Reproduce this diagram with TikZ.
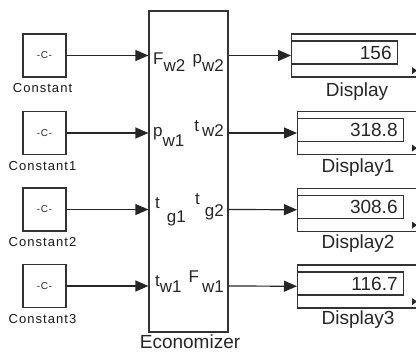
\documentclass[tikz,border=0pt]{standalone}
\usepackage{fontspec}
\setmainfont{Liberation Sans}
\usetikzlibrary{positioning,arrows.meta}

\newcommand{\plbl}[4][0pt]{#2\hspace{#1}\raisebox{-#3pt}{#4}}

\begin{document}
\begin{tikzpicture}[x=1pt, y=-1pt,
    blk/.style={draw, black!80, line width=1.2pt, inner sep=0pt},
    const/.style={blk, minimum width=43pt, minimum height=43pt,
                  text=black!85, font=\fontsize{10}{10}\selectfont\addfontfeatures{LetterSpace=6}},
    clbl/.style={inner sep=0pt, text=black!90,
                 font=\fontsize{13}{13}\selectfont\addfontfeatures{LetterSpace=8}},
    eco/.style={blk, minimum width=79pt, minimum height=321pt},
    port/.style={inner sep=0pt, text=black!85, font=\fontsize{17}{17}\selectfont},
    disp/.style={blk, minimum width=140pt, minimum height=43pt},
    dval/.style={blk, minimum width=106pt, minimum height=23pt, inner sep=0pt,
                 text width=94pt, align=right, text=black!85,
                 font=\fontsize{19}{19}\selectfont},
    dlbl/.style={inner sep=0pt, text=black!85, font=\fontsize{19}{20}\selectfont},
    sig/.style={draw, black!85, line width=1.2pt, -{Triangle[length=13pt,width=11pt]}},
    tip/.style={fill=black!85},
  ]
  \useasboundingbox (0,0) rectangle (416,353);
  \clip (0,0) rectangle (416,353);

  % --- constant sources (left column) ---
  \node[const] (c1) at (44.5,55.5) {-C-};
  \node[const] (c2) at (44.5,133) {-C-};
  \node[const] (c3) at (44.5,209.5) {-C-};
  \node[const] (c4) at (44.5,286) {-C-};
  \node[clbl, below=6pt of c1, xshift=-2pt] (c1l) {Constant};
  \node[clbl, below=6pt of c2, xshift=-2pt] (c2l) {Constant1};
  \node[clbl, below=6pt of c3, xshift=-2pt] (c3l) {Constant2};
  \node[clbl, below=6pt of c4, xshift=-2pt] (c4l) {Constant3};

  % --- economizer block ---
  \node[eco] (eco) at (188.5,171.5) {};
  \node[dlbl, below=2pt of eco, xshift=1.5pt] (ecol) {Economizer};
  \coordinate (i1) at (eco.west |- c1);
  \coordinate (i2) at (eco.west |- c2);
  \coordinate (i3) at (eco.west |- c3);
  \coordinate (i4) at (eco.west |- c4);
  \coordinate (o1) at (eco.east |- c1);
  \coordinate (o2) at (eco.east |- c2);
  \coordinate (o3) at (eco.east |- c3);
  \coordinate (o4) at (eco.east |- c4);

  % --- port labels ---
  \node[port, anchor=base west] (pi1) at (153,65) {\plbl{F}{7}{w2}};
  \node[port, anchor=base east] (po1) at (224,64) {\plbl{p}{8}{w2}};
  \node[port, anchor=base west] (pi2) at (153,137) {\plbl{p}{9.5}{w1}};
  \node[port, anchor=base east] (po2) at (224,131.5) {\plbl[3pt]{t}{5}{w2}};
  \node[port, anchor=base west] (pi3) at (155,208) {\plbl[7pt]{t}{14}{g1}};
  \node[port, anchor=base east] (po3) at (224,205) {\plbl[5pt]{t}{12}{g2}};
  \node[port, anchor=base west] (pi4) at (155,287) {\plbl{t}{6}{w1}};
  \node[port, anchor=base east] (po4) at (224,283) {\plbl[3pt]{F}{10}{w1}};

  % --- displays (right column) ---
  \node[disp, anchor=west] (d1) at (291,55.5) {};
  \node[disp, anchor=west] (d2) at (297,133) {};
  \node[disp, anchor=west] (d3) at (297,210) {};
  \node[disp, anchor=west] (d4) at (297,286.5) {};
  \node[dval, below=7pt of d1.north west, anchor=north west] (v1) {156};
  \node[dval, below=7pt of d2.north west, anchor=north west] (v2) {318.8};
  \node[dval, below=7pt of d3.north west, anchor=north west] (v3) {308.6};
  \node[dval, below=7pt of d4.north west, anchor=north west] (v4) {116.7};
  \node[dlbl, anchor=base] (d1l) at (357,97) {Display};
  \node[dlbl, anchor=base] (d2l) at (358,173) {Display1};
  \node[dlbl, anchor=base] (d3l) at (358,248) {Display2};
  \node[dlbl, anchor=base] (d4l) at (358,324) {Display3};
  \coordinate (xt) at (412,0);
  \foreach \d in {d1,d2,d3,d4}
    \fill[tip] (\d.south west -| xt) ++(0,-10.5) -- ++(5,3.5) -- ++(-5,3.5) -- cycle;

  % --- signals ---
  \draw[sig] (c1) -- (i1);
  \draw[sig] (c2) -- (i2);
  \draw[sig] (c3) -- (i3);
  \draw[sig] (c4) -- (i4);
  \draw[sig] (o1) -- (d1);
  \draw[sig] (o2) -- (d2);
  \draw[sig] (o3) -- (d3);
  \draw[sig] (o4) -- (d4);
\end{tikzpicture}
\end{document}
